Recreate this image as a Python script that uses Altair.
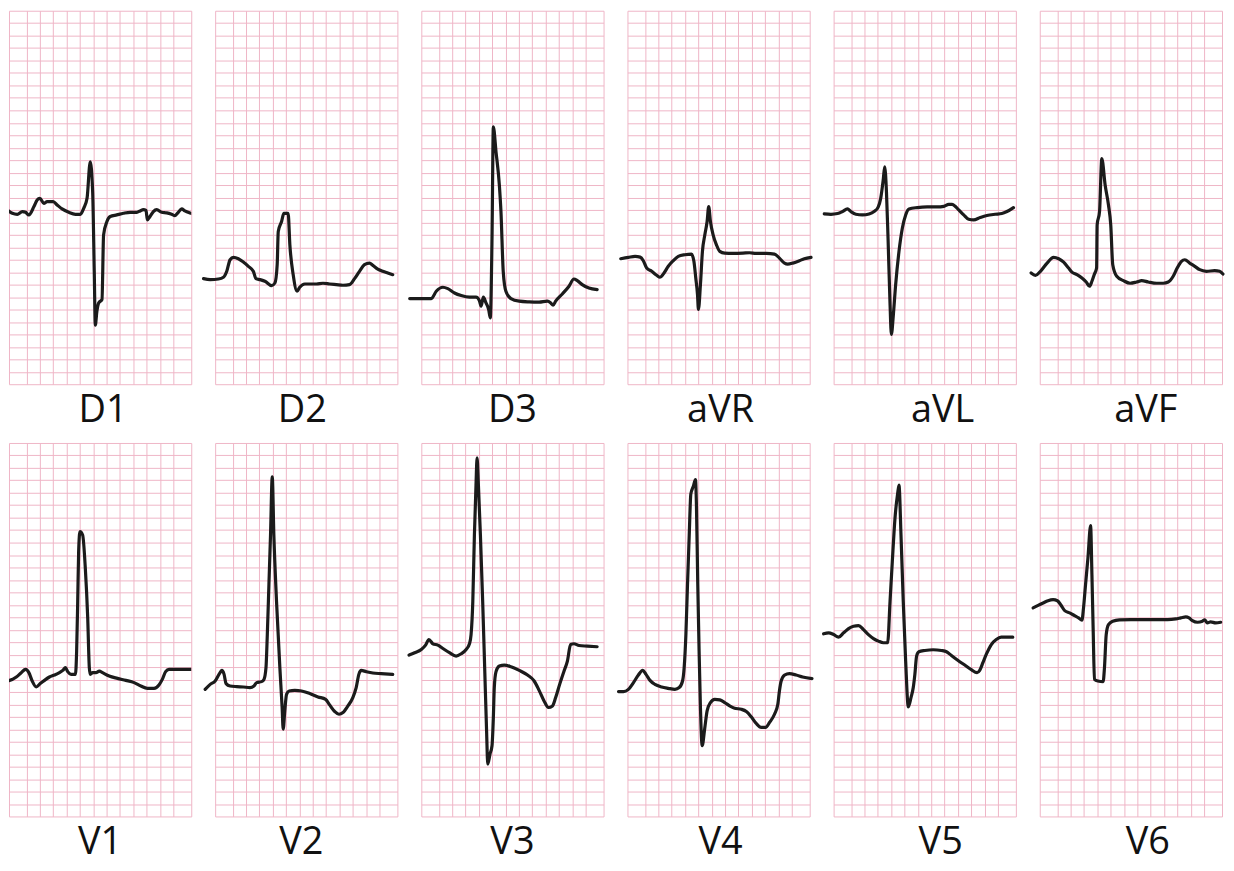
import altair as alt
import pandas as pd

# ECG leads (grid units: t = small squares from left edge, mv = small squares from bottom edge)
ROW1 = ["D1", "D2", "D3", "aVR", "aVL", "aVF"]
ROW2 = ["V1", "V2", "V3", "V4", "V5", "V6"]

D1 = [(-0.12, 14.0), (0.25, 13.73), (0.62, 13.65), (1.0, 13.87), (1.24, 13.81), (1.49, 13.6),
      (1.87, 14.27), (2.11, 14.8), (2.31, 14.93), (2.61, 14.53), (2.86, 14.67), (3.31, 14.67),
      (3.61, 14.4), (3.98, 14.08), (4.48, 13.81), (4.98, 13.65), (5.35, 13.65), (5.6, 14.13),
      (5.85, 14.93), (6.09, 17.87), (6.27, 15.47), (6.39, 9.07), (6.47, 4.75), (6.59, 5.87),
      (6.72, 6.53), (6.97, 6.8), (7.09, 12.0), (7.34, 13.07), (7.59, 13.47), (8.08, 13.6),
      (8.58, 13.73), (9.08, 13.81), (9.58, 13.81), (9.83, 13.92), (10.07, 14.03), (10.27, 13.97),
      (10.37, 13.2), (10.57, 13.47), (10.82, 13.87), (11.07, 14.03), (11.44, 13.81), (11.82, 13.76),
      (12.19, 13.65), (12.44, 13.55), (12.69, 13.81), (12.94, 14.08), (13.18, 13.92), (13.56, 13.76),
      (13.93, 13.65)]

D2 = [(-0.87, 8.48), (-0.37, 8.4), (0.25, 8.45), (0.62, 8.59), (0.87, 9.07), (1.12, 10.0),
      (1.37, 10.19), (1.74, 10.08), (2.11, 9.81), (2.49, 9.47), (2.86, 9.07), (3.06, 8.48),
      (3.36, 8.4), (3.73, 8.27), (4.23, 7.92), (4.48, 8.13), (4.65, 9.6), (4.73, 12.27),
      (4.98, 13.07), (5.15, 13.73), (5.47, 13.73), (5.6, 11.2), (5.85, 8.8), (6.14, 7.47),
      (6.34, 7.79), (6.72, 8.05), (7.09, 8.05), (7.59, 8.05), (8.08, 8.11), (8.58, 8.05),
      (9.08, 8.0), (9.58, 7.95), (10.07, 8.0), (10.45, 8.48), (10.82, 9.07), (11.19, 9.6),
      (11.57, 9.73), (11.82, 9.55), (12.19, 9.25), (12.56, 9.07), (12.94, 8.93), (13.31, 8.8)]

D3 = [(-0.87, 6.88), (-0.12, 6.88), (0.75, 6.88), (1.12, 7.47), (1.62, 7.79), (1.99, 7.68),
      (2.49, 7.33), (2.99, 7.12), (3.61, 6.99), (4.1, 6.99), (4.35, 6.72), (4.48, 6.27),
      (4.65, 6.99), (4.85, 6.53), (5.05, 6.0), (5.17, 5.33), (5.3, 11.73), (5.4, 20.67),
      (5.6, 18.67), (5.85, 16.0), (5.97, 13.87), (6.14, 9.07), (6.34, 7.47), (6.72, 6.88),
      (7.34, 6.67), (8.08, 6.61), (8.83, 6.59), (9.45, 6.67), (9.7, 6.53), (9.88, 6.35),
      (10.07, 6.67), (10.57, 7.25), (11.07, 7.87), (11.44, 8.45), (11.69, 8.32), (12.06, 8.0),
      (12.56, 7.73), (13.18, 7.6)]

AVR = [(-0.5, 10.08), (0.07, 10.19), (0.57, 10.27), (0.95, 10.21), (1.19, 9.92), (1.44, 9.33),
       (1.82, 9.07), (2.19, 8.75), (2.44, 8.59), (2.69, 8.85), (3.06, 9.47), (3.43, 9.92),
       (3.81, 10.27), (4.3, 10.4), (4.8, 10.45), (4.98, 9.87), (5.12, 8.53), (5.25, 7.2),
       (5.32, 6.0), (5.47, 8.0), (5.62, 10.67), (5.8, 12.0), (5.97, 13.07), (6.09, 14.27),
       (6.22, 13.07), (6.42, 12.0), (6.67, 11.2), (6.92, 10.67), (7.29, 10.53), (7.91, 10.51),
       (8.66, 10.53), (9.15, 10.56), (9.65, 10.51), (10.4, 10.51), (11.02, 10.45), (11.39, 10.13),
       (11.77, 9.73), (12.01, 9.65), (12.39, 9.73), (12.89, 9.92), (13.26, 10.08), (13.76, 10.19)]

AVL = [(-0.7, 13.68), (-0.2, 13.65), (0.3, 13.71), (0.67, 13.87), (1.04, 14.08), (1.29, 13.87),
       (1.67, 13.65), (2.16, 13.6), (2.66, 13.68), (3.03, 13.87), (3.33, 14.21), (3.53, 14.93),
       (3.73, 16.53), (3.83, 17.47), (3.96, 15.47), (4.08, 11.73), (4.23, 6.4), (4.33, 4.0),
       (4.48, 5.6), (4.65, 8.0), (4.9, 10.67), (5.15, 12.53), (5.4, 13.6), (5.65, 14.08),
       (6.27, 14.19), (7.01, 14.24), (7.76, 14.24), (8.26, 14.29), (8.63, 14.45), (8.88, 14.45),
       (9.13, 14.27), (9.38, 14.0), (9.75, 13.6), (10.12, 13.25), (10.5, 13.2), (10.99, 13.39),
       (11.49, 13.55), (12.11, 13.65), (12.61, 13.71), (12.99, 13.87), (13.48, 14.19)]

AVF = [(-0.65, 8.93), (-0.32, 8.75), (0.05, 9.07), (0.55, 9.73), (1.04, 10.19), (1.42, 10.08),
       (1.79, 9.81), (2.16, 9.33), (2.41, 9.01), (2.79, 8.8), (3.16, 8.53), (3.48, 8.21),
       (3.73, 7.87), (3.91, 8.27), (4.08, 8.8), (4.26, 9.33), (4.3, 12.8), (4.48, 13.87),
       (4.65, 18.13), (4.9, 16.0), (5.15, 14.4), (5.32, 12.8), (5.47, 9.6), (5.77, 8.67),
       (6.27, 8.32), (6.77, 8.11), (7.26, 8.21), (7.64, 8.32), (8.13, 8.21), (8.76, 8.11),
       (9.25, 8.11), (9.63, 8.21), (10.0, 8.67), (10.3, 9.33), (10.62, 9.87), (10.87, 10.0),
       (11.24, 9.73), (11.62, 9.47), (11.99, 9.2), (12.49, 9.07), (13.11, 9.12), (13.48, 9.07),
       (13.73, 8.85)]

V1 = [(-0.32, 10.88), (0.05, 10.93), (0.55, 11.2), (0.92, 11.55), (1.24, 11.81), (1.49, 11.55),
      (1.74, 10.88), (2.04, 10.4), (2.34, 10.67), (2.66, 10.93), (3.03, 11.2), (3.41, 11.36),
      (3.78, 11.55), (4.03, 11.73), (4.23, 11.95), (4.4, 11.63), (4.65, 11.41), (4.98, 11.41),
      (5.07, 13.28), (5.15, 17.28), (5.22, 21.28), (5.32, 22.88), (5.52, 22.61), (5.72, 19.95),
      (5.9, 15.95), (6.02, 11.95), (6.09, 11.41), (6.27, 11.55), (6.52, 11.55), (6.77, 11.68),
      (7.01, 11.55), (7.51, 11.28), (8.13, 11.09), (8.76, 10.93), (9.38, 10.75), (9.88, 10.48),
      (10.37, 10.29), (10.87, 10.29), (11.24, 10.56), (11.49, 11.01), (11.74, 11.63), (11.99, 11.81),
      (12.49, 11.81), (13.11, 11.81), (13.86, 11.81)]

V2 = [(-0.75, 10.21), (-0.37, 10.61), (0.0, 10.88), (0.32, 11.47), (0.5, 11.73), (0.67, 11.41),
      (0.82, 10.67), (1.12, 10.48), (1.62, 10.43), (2.11, 10.4), (2.61, 10.35), (2.91, 10.48),
      (3.11, 10.75), (3.48, 10.83), (3.66, 11.01), (3.81, 11.95), (3.91, 14.61), (4.03, 18.61),
      (4.15, 22.61), (4.28, 27.28), (4.4, 22.61), (4.6, 17.28), (4.85, 11.95), (5.02, 8.75),
      (5.1, 7.01), (5.22, 8.48), (5.35, 9.81), (5.55, 10.08), (5.97, 10.13), (6.47, 10.08),
      (7.09, 9.87), (7.71, 9.6), (8.28, 9.41), (8.58, 8.96), (8.96, 8.43), (9.28, 8.21),
      (9.58, 8.35), (9.95, 8.88), (10.32, 9.55), (10.57, 10.35), (10.77, 11.41), (10.95, 11.73),
      (11.32, 11.63), (11.82, 11.52), (12.44, 11.47), (13.31, 11.41)]

V3 = [(-0.92, 12.96), (-0.5, 13.15), (0.0, 13.41), (0.32, 13.76), (0.57, 14.21), (0.87, 13.87),
      (1.24, 13.76), (1.62, 13.49), (2.11, 13.15), (2.61, 12.88), (2.99, 13.07), (3.36, 13.41),
      (3.61, 13.87), (3.73, 14.61), (3.86, 17.28), (3.98, 22.61), (4.1, 26.61), (4.18, 28.8),
      (4.28, 26.61), (4.43, 22.61), (4.6, 17.28), (4.75, 11.95), (4.9, 6.61), (4.98, 4.21),
      (5.15, 5.01), (5.3, 5.68), (5.4, 7.95), (5.47, 10.35), (5.6, 11.63), (5.85, 12.08),
      (6.22, 12.16), (6.72, 12.03), (7.34, 11.73), (7.96, 11.36), (8.46, 10.88), (8.83, 10.13),
      (9.2, 9.28), (9.53, 8.75), (9.83, 8.88), (10.07, 9.55), (10.37, 10.61), (10.7, 11.68),
      (10.95, 12.48), (11.19, 13.81), (11.44, 13.87), (11.82, 13.73), (12.44, 13.68), (13.18, 13.63)]

V4 = [(-0.67, 10.03), (-0.3, 10.03), (0.07, 10.21), (0.45, 10.75), (0.82, 11.36), (1.14, 11.73),
      (1.39, 11.41), (1.69, 10.93), (2.06, 10.61), (2.56, 10.4), (3.06, 10.29), (3.56, 10.21),
      (3.88, 10.35), (4.13, 10.88), (4.25, 11.95), (4.38, 14.61), (4.5, 18.61), (4.63, 22.61),
      (4.75, 25.9), (4.93, 26.5), (5.1, 27.05), (5.17, 25.0), (5.27, 18.61), (5.37, 13.28),
      (5.47, 8.75), (5.6, 5.68), (5.8, 7.15), (5.97, 8.48), (6.22, 9.15), (6.54, 9.41),
      (6.92, 9.36), (7.29, 9.15), (7.66, 8.88), (8.03, 8.69), (8.53, 8.61), (8.91, 8.43),
      (9.28, 8.0), (9.65, 7.47), (10.02, 7.15), (10.35, 7.15), (10.65, 7.55), (11.02, 8.21),
      (11.27, 9.01), (11.39, 10.08), (11.52, 10.88), (11.77, 11.36), (12.14, 11.47), (12.64, 11.36),
      (13.13, 11.2), (13.83, 11.07)]

V5 = [(-0.75, 14.67), (-0.37, 14.75), (0.0, 14.61), (0.37, 14.4), (0.75, 14.75), (1.12, 15.09),
      (1.49, 15.28), (1.87, 15.33), (2.24, 15.01), (2.61, 14.61), (2.99, 14.29), (3.36, 14.08),
      (3.73, 13.95), (4.05, 13.95), (4.23, 17.28), (4.4, 20.48), (4.6, 23.95), (4.8, 25.95),
      (4.9, 26.61), (5.05, 22.61), (5.22, 17.28), (5.4, 12.48), (5.6, 8.8), (5.8, 9.55),
      (5.97, 10.35), (6.09, 11.41), (6.22, 12.88), (6.39, 13.23), (6.84, 13.33), (7.46, 13.39),
      (8.08, 13.33), (8.46, 13.23), (8.83, 12.93), (9.33, 12.53), (9.83, 12.16), (10.32, 11.79),
      (10.75, 11.55), (10.95, 11.73), (11.19, 12.35), (11.44, 13.01), (11.82, 13.81), (12.19, 14.21),
      (12.56, 14.4), (13.06, 14.4), (13.43, 14.4)]

V6 = [(-0.5, 16.75), (-0.12, 16.96), (0.25, 17.15), (0.62, 17.33), (1.0, 17.41), (1.32, 17.33),
      (1.57, 17.01), (1.87, 16.53), (2.24, 16.35), (2.61, 16.13), (2.91, 15.95), (3.16, 15.76),
      (3.28, 16.75), (3.43, 18.61), (3.61, 20.75), (3.81, 23.36), (3.91, 19.41), (4.0, 15.15),
      (4.1, 11.01), (4.35, 10.88), (4.75, 10.83), (4.85, 11.95), (4.98, 14.61), (5.15, 15.41),
      (5.47, 15.68), (5.97, 15.79), (6.84, 15.81), (7.84, 15.81), (8.83, 15.81), (9.58, 15.81),
      (10.2, 15.87), (10.57, 15.95), (10.95, 16.03), (11.19, 15.95), (11.44, 15.73), (11.82, 15.6),
      (12.19, 15.68), (12.36, 15.79), (12.56, 15.55), (12.81, 15.63), (13.18, 15.55), (13.56, 15.6)]

TRACES = {"D1": D1, "D2": D2, "D3": D3, "aVR": AVR, "aVL": AVL, "aVF": AVF,
          "V1": V1, "V2": V2, "V3": V3, "V4": V4, "V5": V5, "V6": V6}

# grid definition (small squares)
X_GRID = [1.32 + k for k in range(12)]
Y_GRID = list(range(1, 30))
X_MAX = 13.66
Y_MAX = 30

# style
PINK = "#efb5c7"
INK = "#1b1b1b"
PANEL_W, PANEL_H = 183, 375
LABEL_DX = {"D1": 3, "D2": -4, "D3": 0, "aVR": 2, "aVL": 18, "aVF": 15,
            "V1": 0, "V2": -5, "V3": 0, "V4": 2, "V5": 16, "V6": 17}


def grid_axis(values):
    return alt.Axis(values=values, title=None, grid=True, gridColor=PINK, gridOpacity=1,
                    gridWidth=1, labels=False, ticks=False, domain=False,
                    minExtent=0, maxExtent=0)


def panel(lead, clip=False):
    pts = TRACES[lead]
    df = pd.DataFrame({"i": range(len(pts)),
                       "t": [p[0] for p in pts],
                       "mv": [p[1] for p in pts]})
    return alt.Chart(df).mark_line(
        color=INK, strokeWidth=3.2, strokeJoin="round", strokeCap="round", clip=clip,
        interpolate="monotone",
    ).encode(
        x=alt.X("t:Q", scale=alt.Scale(domain=[0, X_MAX], nice=False, zero=False),
                axis=grid_axis(X_GRID)),
        y=alt.Y("mv:Q", scale=alt.Scale(domain=[0, Y_MAX], nice=False, zero=False),
                axis=grid_axis(Y_GRID)),
        order=alt.Order("i:Q"),
    ).properties(
        width=PANEL_W, height=PANEL_H,
        title=alt.TitleParams(text=lead, orient="bottom", anchor="middle", fontSize=38,
                              font="Open Sans", fontWeight="normal", color="#111111",
                              offset=8, dx=LABEL_DX[lead]),
    )


row1 = alt.hconcat(*[panel(l, clip=(i == 0)) for i, l in enumerate(ROW1)], spacing=24, bounds="flush")
row2 = alt.hconcat(*[panel(l, clip=(i == 0)) for i, l in enumerate(ROW2)], spacing=24, bounds="flush")

chart = alt.vconcat(row1, row2, spacing=11).properties(
    padding={"left": 0, "top": 0, "right": 0, "bottom": 0},
    background="white",
).configure_view(
    stroke=PINK, strokeWidth=1, fill="white"
)

chart.save("out.html", embed_options={"renderer": "svg", "actions": False})
